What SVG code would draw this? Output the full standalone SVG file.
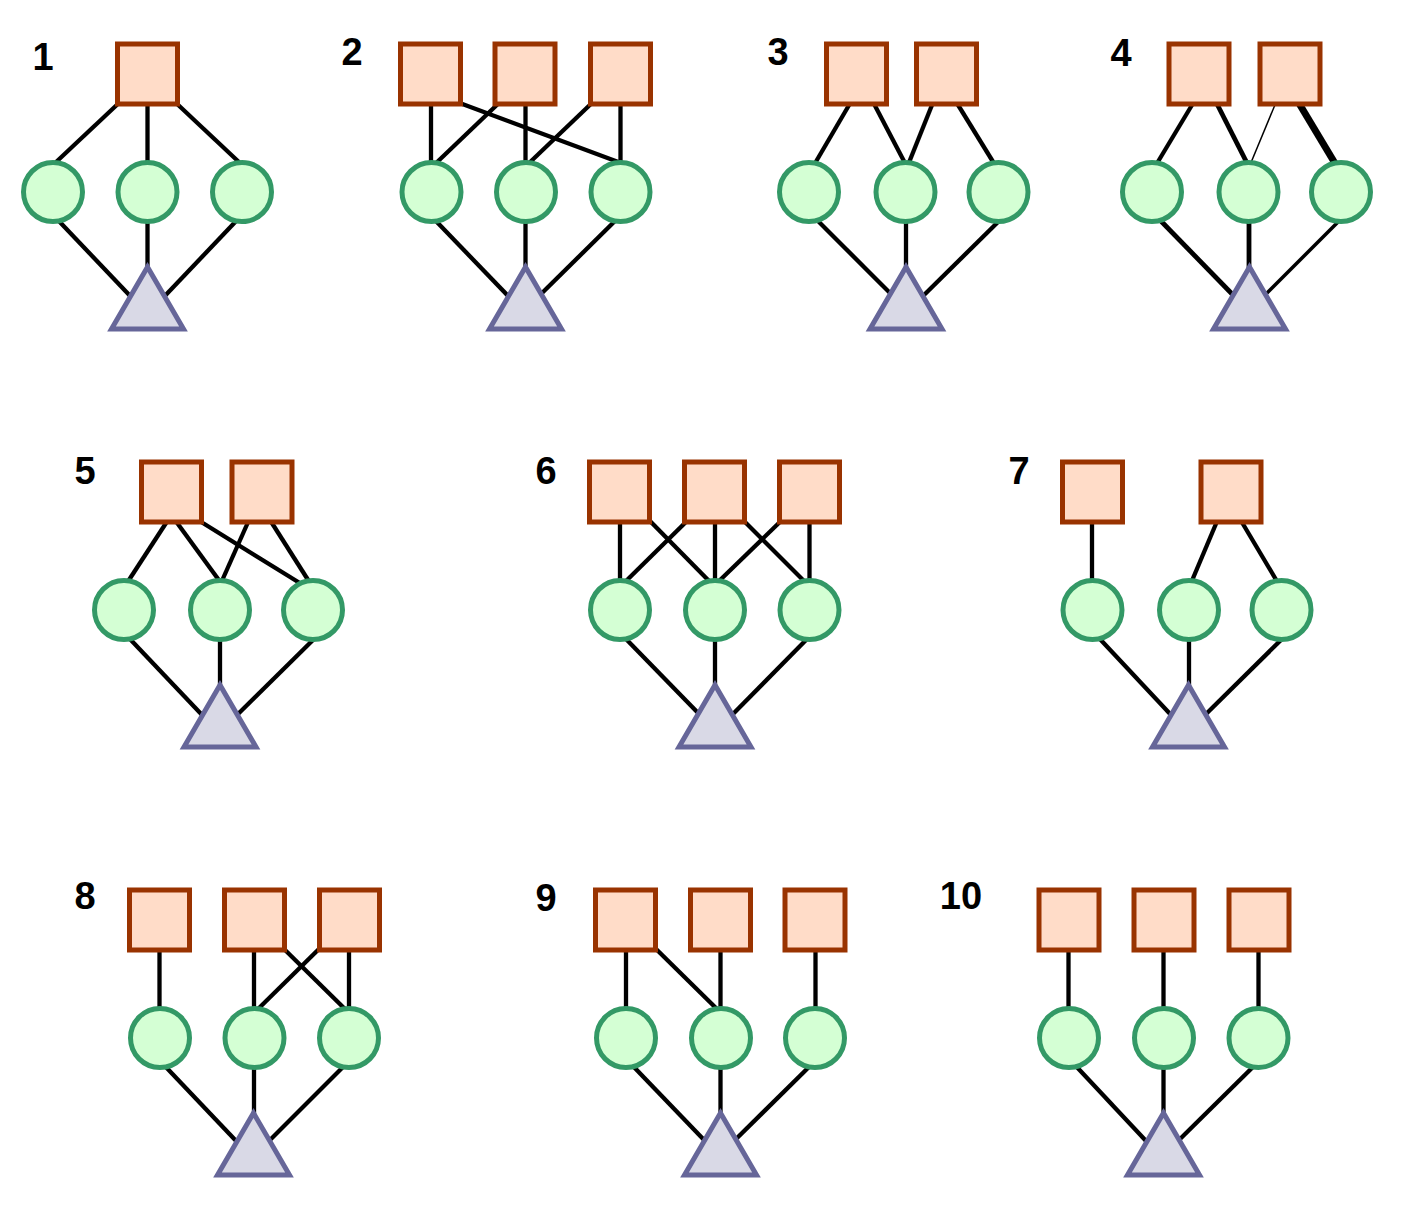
<svg xmlns="http://www.w3.org/2000/svg" width="1406" height="1205" viewBox="0 0 1406 1205">
<style>
.sq{fill:#ffdcc8;stroke:#993300;stroke-width:5}
.ci{fill:#d4ffd4;stroke:#339966;stroke-width:5}
.tr{fill:#d9d9e6;stroke:#666699;stroke-width:5;stroke-linejoin:miter}
.e line{stroke:#000;stroke-width:4.3}
.lbl{font-family:"Liberation Sans",Arial,sans-serif;font-weight:bold;font-size:38px;fill:#000;text-anchor:middle}
</style>
<rect width="1406" height="1205" fill="#fff"/>
<g id="connectors" class="e">
<!-- panel 1 -->
<line x1="121" y1="101" x2="54" y2="164"/>
<line x1="147.5" y1="100" x2="147.5" y2="165"/>
<line x1="174" y1="101" x2="241" y2="164"/>
<line x1="56" y1="218" x2="134" y2="300"/>
<line x1="147.5" y1="220" x2="147.5" y2="272"/>
<line x1="239" y1="218" x2="161" y2="300"/>
<!-- panel 2 -->
<line x1="431" y1="100" x2="431" y2="165"/>
<line x1="457" y1="102" x2="621" y2="163"/>
<line x1="501" y1="101" x2="433" y2="166"/>
<line x1="525.5" y1="100" x2="525.5" y2="165"/>
<line x1="594" y1="101" x2="526" y2="166"/>
<line x1="620.5" y1="100" x2="620.5" y2="165"/>
<line x1="434" y1="219" x2="511" y2="299"/>
<line x1="525.5" y1="220" x2="525.5" y2="272"/>
<line x1="617" y1="219" x2="539" y2="296"/>
<!-- panel 3 -->
<line x1="852" y1="100" x2="814" y2="165"/>
<line x1="872" y1="100" x2="906" y2="165"/>
<line x1="934" y1="100" x2="908" y2="165"/>
<line x1="955" y1="100" x2="995" y2="165"/>
<line x1="816" y1="219" x2="894" y2="297"/>
<line x1="906" y1="220" x2="906" y2="272"/>
<line x1="999" y1="221" x2="923" y2="296"/>
<!-- panel 4 -->
<line x1="1195" y1="100" x2="1156" y2="165"/>
<line x1="1215" y1="100" x2="1248" y2="165" style="stroke-width:4.8"/>
<line x1="1277" y1="100" x2="1250" y2="165" style="stroke-width:1.5"/>
<line x1="1297" y1="100" x2="1336" y2="165" style="stroke-width:7"/>
<line x1="1158" y1="218" x2="1235" y2="297" style="stroke-width:4.8"/>
<line x1="1249" y1="220" x2="1249" y2="272" style="stroke-width:4.8"/>
<line x1="1341" y1="219" x2="1264" y2="296" style="stroke-width:3.5"/>
<!-- panel 5 -->
<line x1="168" y1="520" x2="127" y2="583"/>
<line x1="175" y1="520" x2="221" y2="583"/>
<line x1="198" y1="520" x2="303" y2="585"/>
<line x1="249" y1="520" x2="221" y2="583"/>
<line x1="270" y1="520" x2="310" y2="583"/>
<line x1="129" y1="638" x2="204" y2="717"/>
<line x1="220" y1="638" x2="220" y2="690"/>
<line x1="314" y1="639" x2="236" y2="716"/>
<!-- panel 6 -->
<line x1="620" y1="518" x2="620" y2="583"/>
<line x1="648" y1="519" x2="712" y2="584"/>
<line x1="689" y1="519" x2="623" y2="584"/>
<line x1="715" y1="518" x2="715" y2="583"/>
<line x1="742" y1="519" x2="807" y2="584"/>
<line x1="783" y1="519" x2="716" y2="584"/>
<line x1="809.5" y1="518" x2="809.5" y2="583"/>
<line x1="626" y1="639" x2="702" y2="717"/>
<line x1="715" y1="638" x2="715" y2="690"/>
<line x1="807" y1="639" x2="731" y2="716"/>
<!-- panel 7 -->
<line x1="1092" y1="518" x2="1092" y2="583"/>
<line x1="1218" y1="519" x2="1191" y2="583"/>
<line x1="1240" y1="519" x2="1278" y2="583"/>
<line x1="1099" y1="638" x2="1172" y2="716"/>
<line x1="1189" y1="638" x2="1189" y2="690"/>
<line x1="1282" y1="639" x2="1204" y2="716"/>
<!-- panel 8 -->
<line x1="159.5" y1="945" x2="159.5" y2="1012"/>
<line x1="254" y1="945" x2="254" y2="1012"/>
<line x1="281" y1="946" x2="347" y2="1011"/>
<line x1="322" y1="946" x2="256" y2="1011"/>
<line x1="349" y1="945" x2="349" y2="1012"/>
<line x1="163" y1="1064" x2="239" y2="1144"/>
<line x1="254" y1="1064" x2="254" y2="1120"/>
<line x1="346" y1="1064" x2="268" y2="1142"/>
<!-- panel 9 -->
<line x1="626" y1="945" x2="626" y2="1012"/>
<line x1="653" y1="946" x2="719" y2="1011"/>
<line x1="720.5" y1="945" x2="720.5" y2="1012"/>
<line x1="815.5" y1="945" x2="815.5" y2="1012"/>
<line x1="631" y1="1064" x2="706" y2="1142"/>
<line x1="720.5" y1="1064" x2="720.5" y2="1120"/>
<line x1="812" y1="1064" x2="734" y2="1141"/>
<!-- panel 10 -->
<line x1="1068.5" y1="945" x2="1068.5" y2="1012"/>
<line x1="1163.5" y1="945" x2="1163.5" y2="1012"/>
<line x1="1258.5" y1="945" x2="1258.5" y2="1012"/>
<line x1="1074" y1="1064" x2="1147" y2="1142"/>
<line x1="1163.5" y1="1064" x2="1163.5" y2="1120"/>
<line x1="1256" y1="1064" x2="1178" y2="1141"/>
</g>
<!-- labels -->
<g id="labels">
<text class="lbl" x="43" y="70">1</text>
<text class="lbl" x="352" y="65">2</text>
<text class="lbl" x="778" y="65">3</text>
<text class="lbl" x="1121" y="66">4</text>
<text class="lbl" x="85" y="484">5</text>
<text class="lbl" x="546" y="484">6</text>
<text class="lbl" x="1019" y="484">7</text>
<text class="lbl" x="85" y="909">8</text>
<text class="lbl" x="546" y="911">9</text>
<text class="lbl" x="961" y="909">10</text>
</g>
<!-- panel 1 -->
<g id="p1-s1"><rect class="sq" x="117.5" y="44" width="60" height="60"/></g>
<g id="p1-c1"><circle class="ci" cx="53" cy="192" r="29.5"/></g>
<g id="p1-c2"><circle class="ci" cx="147.5" cy="192" r="29.5"/></g>
<g id="p1-c3"><circle class="ci" cx="242" cy="192" r="29.5"/></g>
<g id="p1-t"><polygon class="tr" points="147.5,267 111.5,329 183.5,329"/></g>
<!-- panel 2 -->
<g id="p2-s1"><rect class="sq" x="400.5" y="44" width="60" height="60"/></g>
<g id="p2-s2"><rect class="sq" x="495" y="44" width="60" height="60"/></g>
<g id="p2-s3"><rect class="sq" x="590.5" y="44" width="60" height="60"/></g>
<g id="p2-c1"><circle class="ci" cx="431.5" cy="192" r="29.5"/></g>
<g id="p2-c2"><circle class="ci" cx="526" cy="192" r="29.5"/></g>
<g id="p2-c3"><circle class="ci" cx="620.5" cy="192" r="29.5"/></g>
<g id="p2-t"><polygon class="tr" points="525.5,267 489.5,329 561.5,329"/></g>
<!-- panel 3 -->
<g id="p3-s1"><rect class="sq" x="826.5" y="44" width="60" height="60"/></g>
<g id="p3-s2"><rect class="sq" x="916.5" y="44" width="60" height="60"/></g>
<g id="p3-c1"><circle class="ci" cx="809" cy="192" r="29.5"/></g>
<g id="p3-c2"><circle class="ci" cx="905.5" cy="192" r="29.5"/></g>
<g id="p3-c3"><circle class="ci" cx="998.5" cy="192" r="29.5"/></g>
<g id="p3-t"><polygon class="tr" points="906,267 870,329 942,329"/></g>
<!-- panel 4 -->
<g id="p4-s1"><rect class="sq" x="1169" y="44" width="60" height="60"/></g>
<g id="p4-s2"><rect class="sq" x="1260" y="44" width="60" height="60"/></g>
<g id="p4-c1"><circle class="ci" cx="1152" cy="192" r="29.5"/></g>
<g id="p4-c2"><circle class="ci" cx="1248.5" cy="192" r="29.5"/></g>
<g id="p4-c3"><circle class="ci" cx="1341" cy="192" r="29.5"/></g>
<g id="p4-t"><polygon class="tr" points="1249.5,267 1213.5,329 1285.5,329"/></g>
<!-- panel 5 -->
<g id="p5-s1"><rect class="sq" x="141.5" y="462" width="60" height="60"/></g>
<g id="p5-s2"><rect class="sq" x="232" y="462" width="60" height="60"/></g>
<g id="p5-c1"><circle class="ci" cx="124" cy="610" r="29.5"/></g>
<g id="p5-c2"><circle class="ci" cx="220" cy="610" r="29.5"/></g>
<g id="p5-c3"><circle class="ci" cx="313" cy="610" r="29.5"/></g>
<g id="p5-t"><polygon class="tr" points="220,685 184,747 256,747"/></g>
<!-- panel 6 -->
<g id="p6-s1"><rect class="sq" x="589.5" y="462" width="60" height="60"/></g>
<g id="p6-s2"><rect class="sq" x="684.5" y="462" width="60" height="60"/></g>
<g id="p6-s3"><rect class="sq" x="779.5" y="462" width="60" height="60"/></g>
<g id="p6-c1"><circle class="ci" cx="620" cy="610" r="29.5"/></g>
<g id="p6-c2"><circle class="ci" cx="715" cy="610" r="29.5"/></g>
<g id="p6-c3"><circle class="ci" cx="809.5" cy="610" r="29.5"/></g>
<g id="p6-t"><polygon class="tr" points="715,685 679,747 751,747"/></g>
<!-- panel 7 -->
<g id="p7-s1"><rect class="sq" x="1062.5" y="462" width="60" height="60"/></g>
<g id="p7-s2"><rect class="sq" x="1201" y="462" width="60" height="60"/></g>
<g id="p7-c1"><circle class="ci" cx="1092.5" cy="610" r="29.5"/></g>
<g id="p7-c2"><circle class="ci" cx="1189" cy="610" r="29.5"/></g>
<g id="p7-c3"><circle class="ci" cx="1281.5" cy="610" r="29.5"/></g>
<g id="p7-t"><polygon class="tr" points="1188.5,685 1152.5,747 1224.5,747"/></g>
<!-- panel 8 -->
<g id="p8-s1"><rect class="sq" x="129.5" y="890" width="60" height="60"/></g>
<g id="p8-s2"><rect class="sq" x="224.5" y="890" width="60" height="60"/></g>
<g id="p8-s3"><rect class="sq" x="319.5" y="890" width="60" height="60"/></g>
<g id="p8-c1"><circle class="ci" cx="160" cy="1038" r="29.5"/></g>
<g id="p8-c2"><circle class="ci" cx="254.5" cy="1038" r="29.5"/></g>
<g id="p8-c3"><circle class="ci" cx="349" cy="1038" r="29.5"/></g>
<g id="p8-t"><polygon class="tr" points="253.5,1113 217.5,1175 289.5,1175"/></g>
<!-- panel 9 -->
<g id="p9-s1"><rect class="sq" x="595.5" y="890" width="60" height="60"/></g>
<g id="p9-s2"><rect class="sq" x="690.5" y="890" width="60" height="60"/></g>
<g id="p9-s3"><rect class="sq" x="785" y="890" width="60" height="60"/></g>
<g id="p9-c1"><circle class="ci" cx="626" cy="1038" r="29.5"/></g>
<g id="p9-c2"><circle class="ci" cx="721" cy="1038" r="29.5"/></g>
<g id="p9-c3"><circle class="ci" cx="815" cy="1038" r="29.5"/></g>
<g id="p9-t"><polygon class="tr" points="720.5,1113 684.5,1175 756.5,1175"/></g>
<!-- panel 10 -->
<g id="p10-s1"><rect class="sq" x="1039" y="890" width="60" height="60"/></g>
<g id="p10-s2"><rect class="sq" x="1134" y="890" width="60" height="60"/></g>
<g id="p10-s3"><rect class="sq" x="1229" y="890" width="60" height="60"/></g>
<g id="p10-c1"><circle class="ci" cx="1069" cy="1038" r="29.5"/></g>
<g id="p10-c2"><circle class="ci" cx="1164" cy="1038" r="29.5"/></g>
<g id="p10-c3"><circle class="ci" cx="1258.5" cy="1038" r="29.5"/></g>
<g id="p10-t"><polygon class="tr" points="1163.5,1113 1127.5,1175 1199.5,1175"/></g>
</svg>
